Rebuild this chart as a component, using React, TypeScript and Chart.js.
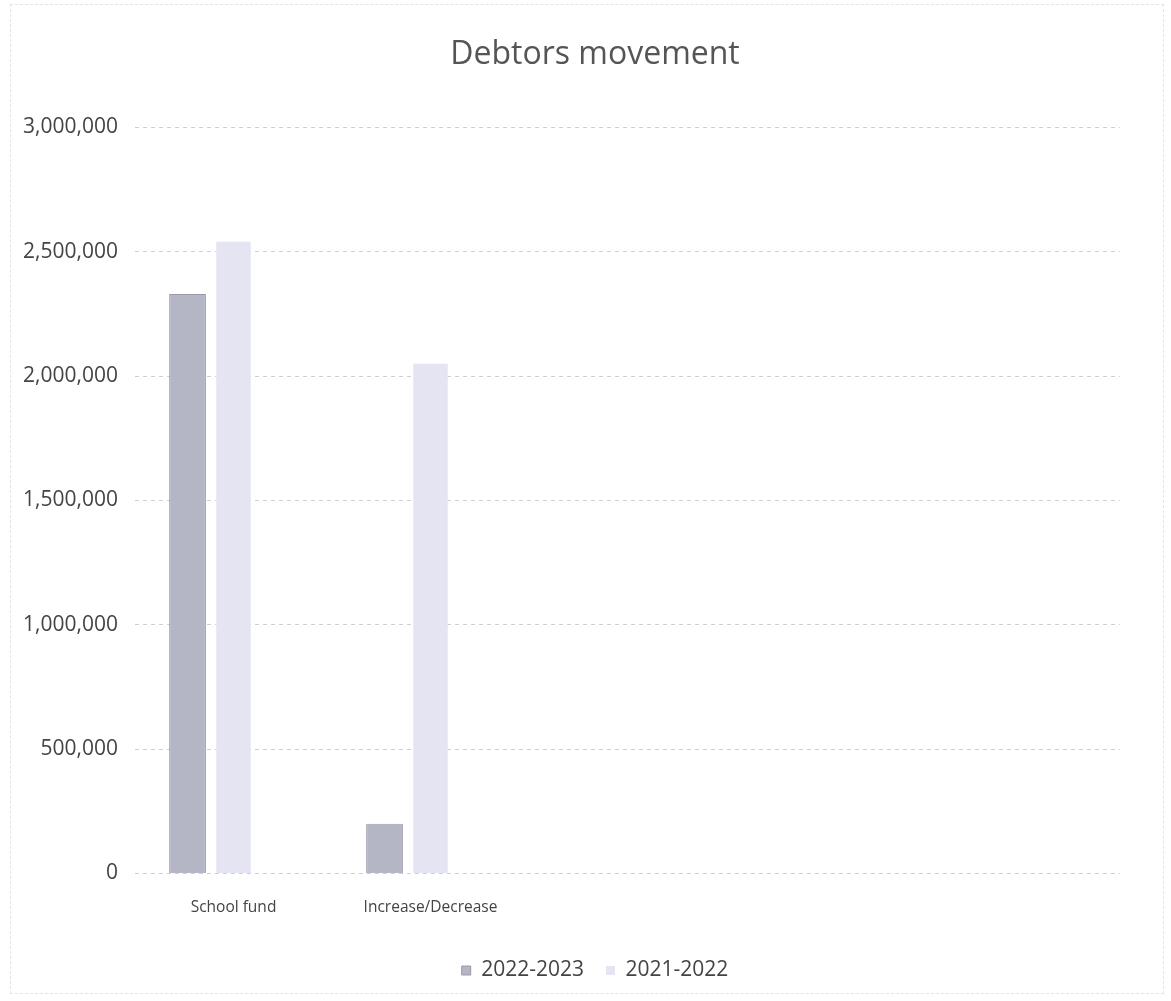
import React, { useEffect, useRef } from "react";
import { Chart, registerables } from "chart.js";

Chart.register(...registerables);

const title = "Debtors movement";
const categories = ["School fund", "Increase/Decrease", "", "", ""];
const seriesNames = ["2022-2023", "2021-2022"];
const values2022_2023 = [2330000, 200000, null, null, null];
const values2021_2022 = [2540000, 2050000, null, null, null];
const valuesEmpty = [null, null, null, null, null];
const yTicks = [0, 500000, 1000000, 1500000, 2000000, 2500000, 3000000];

const FONT = "'Open Sans', Lato, sans-serif";

const shiftBlocks = {
  id: "shiftBlocks",
  afterLayout(chart: any) {
    const dx = 29;
    if (chart.titleBlock) {
      chart.titleBlock.left += dx;
      chart.titleBlock.right += dx;
    }
    if (chart.legend) {
      chart.legend.left += dx;
      chart.legend.right += dx;
    }
  },
};

export default function App() {
  const ref = useRef<HTMLCanvasElement | null>(null);
  useEffect(() => {
    if (!ref.current) return;
    const chart = new Chart(ref.current, {
      type: "bar",
      plugins: [shiftBlocks],
      data: {
        labels: categories,
        datasets: [
          {
            label: seriesNames[0],
            data: values2022_2023,
            backgroundColor: "#b5b6c5",
            borderColor: "#9a9aaa",
            borderWidth: 1,
            categoryPercentage: 0.7,
            barPercentage: 0.8,
          },
          {
            label: seriesNames[1],
            data: values2021_2022,
            backgroundColor: "#e4e4f2",
            borderWidth: 0,
            categoryPercentage: 0.7,
            barPercentage: 0.75,
          },
          {
            label: "",
            data: valuesEmpty,
            backgroundColor: "rgba(0,0,0,0)",
            categoryPercentage: 0.7,
            barPercentage: 0.8,
          },
        ],
      },
      options: {
        animation: false,
        responsive: false,
        maintainAspectRatio: false,
        layout: { padding: { left: 12, right: 51, top: 26, bottom: 10 } },
        plugins: {
          title: {
            display: true,
            text: title,
            color: "#555555",
            font: { family: FONT, size: 32, weight: "normal" },
            padding: { top: 10, bottom: 53 },
          },
          legend: {
            position: "bottom",
            labels: {
              color: "#444444",
              font: { family: FONT, size: 21 },
              boxWidth: 9,
              boxHeight: 9,
              padding: 22,
              filter: (item: any) => item.text !== "",
            },
          },
          tooltip: { enabled: false },
        },
        scales: {
          x: {
            grid: { display: false },
            border: { display: false },
            afterFit: (s: any) => {
              s.height += 4;
            },
            ticks: { color: "#444444", font: { family: FONT, size: 15.5 }, padding: 17, maxRotation: 0 },
          },
          y: {
            min: 0,
            max: 3000000,
            afterFit: (s: any) => {
              s.width = 123;
            },
            afterBuildTicks: (s: any) => {
              s.ticks = yTicks.map((v) => ({ value: v }));
            },
            grid: {
              color: "#cfcfcf",
              drawTicks: false,
              lineWidth: 1,
            },
            border: { display: false, dash: [4, 4] },
            ticks: {
              color: "#444444",
              font: { family: FONT, size: 21 },
              padding: 17,
              callback: (v: any) => Number(v).toLocaleString("en-US"),
            },
          },
        },
      },
    } as any);
    return () => chart.destroy();
  }, []);
  return (
    <div style={{ position: "absolute", left: 0, top: 0, width: 1171, height: 1001, background: "#fff" }}>
      <div
        style={{
          position: "absolute",
          left: 10,
          top: 4,
          width: 1154,
          height: 990,
          border: "1px dashed #e4e4e4",
          boxSizing: "border-box",
        }}
      />
      <canvas ref={ref} width={1171} height={1001} style={{ position: "absolute", left: 0, top: 0 }} />
    </div>
  );
}
